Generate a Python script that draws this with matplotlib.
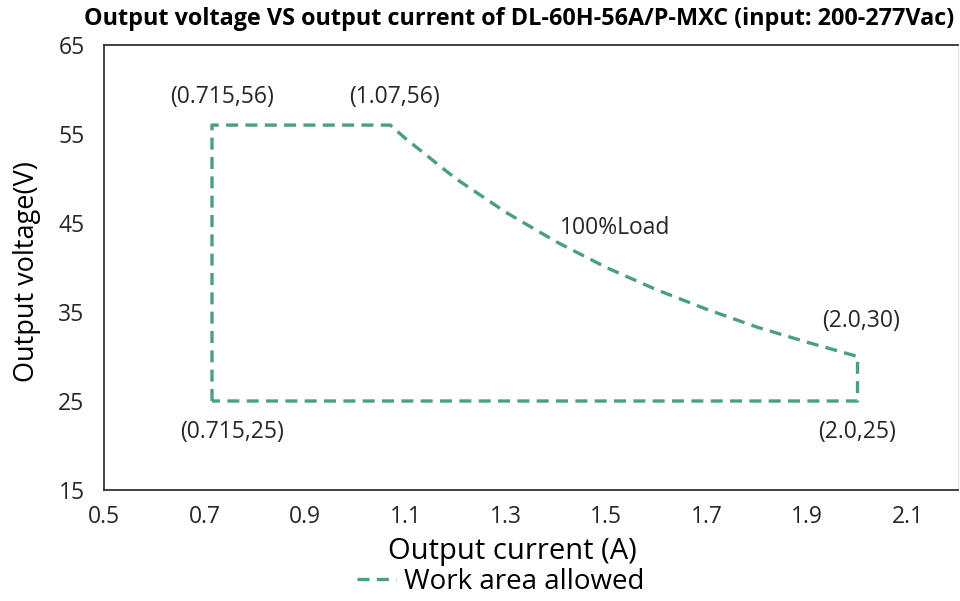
import matplotlib
matplotlib.use('Agg')
import matplotlib.pyplot as plt

plt.rcParams['font.family'] = ['Open Sans', 'DejaVu Sans']

# work area boundary (current A, voltage V)
current = [0.715, 0.715, 1.07, 1.1, 1.2, 1.3, 1.4, 1.5, 1.6, 1.7, 1.8, 1.9, 2.0, 2.0, 0.715]
voltage = [25, 56, 56, 54.5, 50, 46.2, 42.9, 40, 37.5, 35.3, 33.3, 31.6, 30, 25, 25]

# point labels
label_text = ['(0.715,56)', '(1.07,56)', '100%Load', '(2.0,30)', '(2.0,25)', '(0.715,25)']
label_x = [0.735, 1.078, 1.518, 2.007, 2.0, 0.755]
label_y = [59.2, 59.2, 44.4, 34.0, 21.5, 21.5]

x_ticks = [0.5, 0.7, 0.9, 1.1, 1.3, 1.5, 1.7, 1.9, 2.1]
y_ticks = [15, 25, 35, 45, 55, 65]

green = '#4a9e82'
text_col = '#262626'

fig = plt.figure(figsize=(9.6, 6.01), dpi=100)
ax = fig.add_axes([104/960, 1 - 490/601, (958-104)/960, (490-45)/601])

ax.plot(current, voltage, color=green, lw=2.4, dashes=(3.6, 2.2), label='Work area allowed')

for t, x, y in zip(label_text, label_x, label_y):
    ax.text(x, y, t, ha='center', va='center', fontsize=16.5, color=text_col)

ax.set_xlim(0.5, 2.2)
ax.set_ylim(15, 65)
ax.set_xticks(x_ticks)
ax.set_xticklabels([f'{v:.1f}' for v in x_ticks])
ax.set_yticks(y_ticks)
ax.tick_params(length=0, labelsize=16.5, colors=text_col)
ax.tick_params(axis='x', pad=11)
ax.tick_params(axis='y', pad=14)

for s in ['left', 'bottom', 'top']:
    ax.spines[s].set_color('#333333')
    ax.spines[s].set_linewidth(1.3)
ax.spines['right'].set_color('#e0e0e0')

ax.set_xlabel('Output current (A)', fontsize=21, color='black')
ax.xaxis.set_label_coords((512 - 104) / 854, -0.105)
ax.set_ylabel('Output voltage(V)', fontsize=19.5, color='black')
ax.yaxis.set_label_coords((41 - 104) / 854, (490 - 272) / 445)

fig.text(519/960, 1 - 19/601, 'Output voltage VS output current of DL-60H-56A/P-MXC (input: 200-277Vac)',
         ha='center', va='center', fontsize=16.8, fontweight='bold', color='black')

ax.legend(loc='center', bbox_to_anchor=(501/960, 1 - 582/601), bbox_transform=fig.transFigure,
          frameon=False, fontsize=20, handlelength=1.4, handletextpad=0.3)

fig.savefig('out.png', dpi=100)
